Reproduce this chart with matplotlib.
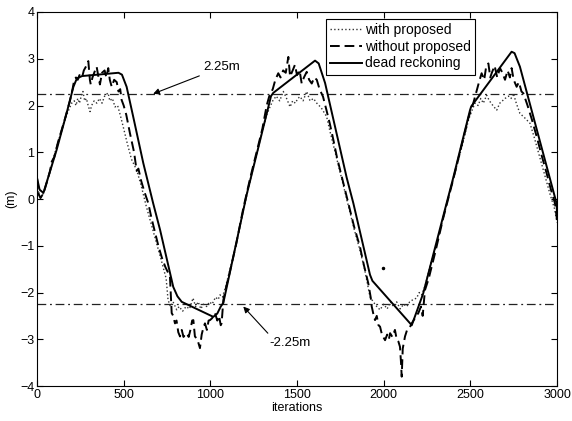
import matplotlib
matplotlib.use("Agg")
import matplotlib.pyplot as plt

# ---------------- data ----------------
dead_x = [0, 15, 37, 80, 113, 171, 210, 230, 260, 470, 490, 517, 555, 613, 670,
          710, 786, 810, 835, 1017, 1040, 1060, 1075, 1210, 1350, 1363, 1604,
          1625, 1662, 1787, 1825, 1921, 1935, 2162, 2228, 2344, 2401, 2498,
          2505, 2738, 2755, 2786, 2998, 3000]
dead_y = [0.45, 0.2, 0.13, 0.65, 1.05, 1.84, 2.4, 2.58, 2.63, 2.7, 2.66, 2.4, 1.76,
          0.77, -0.09, -0.66, -1.88, -2.08, -2.2, -2.52, -2.45, -2.3, -2.22, 0.1,
          2.2, 2.27, 2.96, 2.9, 2.48, 0.45, -0.09, -1.62, -1.75, -2.7, -2.02,
          -0.36, 0.45, 1.9, 1.98, 3.15, 3.12, 2.83, -0.1, -0.35]

without_x = [0, 10, 20, 30, 40, 60, 75, 85, 100, 120, 140, 160, 175, 190, 205, 215,
             225, 235, 245, 260, 270, 285, 296, 305, 310, 320, 335, 344, 355, 363,
             375, 390, 400, 411, 420, 431, 445, 460, 470, 480, 488, 500, 515, 536,
             560, 575, 585, 600, 620, 642, 660, 680, 700, 720, 740, 767, 777, 786,
             796, 805, 815, 825, 835, 845, 855, 864, 875, 885, 895, 902, 911, 925,
             940, 950, 960, 969, 980, 990, 998, 1010, 1027, 1040, 1050, 1060, 1065,
             1070, 1075, 1090, 1110, 1150, 1190, 1230, 1270, 1300, 1325, 1340, 1360,
             1375, 1392, 1405, 1420, 1435, 1450, 1460, 1475, 1488, 1500, 1515, 1527,
             1540, 1556, 1570, 1585, 1600, 1614, 1630, 1650, 1670, 1690, 1710, 1730,
             1750, 1770, 1787, 1810, 1830, 1863, 1885, 1911, 1925, 1931, 1940, 1950,
             1960, 1970, 1979, 1990, 2008, 2020, 2030, 2037, 2050, 2065, 2075, 2085,
             2094, 2100, 2104, 2110, 2123, 2135, 2150, 2162, 2180, 2200, 2215, 2225,
             2238, 2260, 2300, 2344, 2400, 2450, 2490, 2517, 2535, 2550, 2565, 2580,
             2590, 2604, 2615, 2623, 2640, 2655, 2671, 2685, 2700, 2715, 2728, 2738,
             2750, 2767, 2780, 2795, 2806, 2830, 2855, 2883, 2910, 2940, 2965, 2988,
             3000]
without_y = [0.45, 0.1, 0.02, 0.08, 0.15, 0.4, 0.6, 0.8, 0.9, 1.2, 1.45, 1.7, 1.9,
             2.1, 2.35, 2.55, 2.6, 2.55, 2.65, 2.6, 2.75, 2.85, 2.95, 2.55, 2.45,
             2.6, 2.75, 2.83, 2.6, 2.45, 2.7, 2.75, 2.6, 2.8, 2.55, 2.4, 2.55, 2.5,
             2.3, 2.35, 2.12, 2.0, 1.8, 1.41, 1.0, 0.6, 0.65, 0.4, 0.15, -0.09, -0.4,
             -0.7, -1.0, -1.25, -1.45, -1.66, -2.44, -2.5, -2.66, -2.6, -2.85, -2.94,
             -2.8, -2.95, -2.9, -2.87, -2.95, -2.8, -2.6, -2.59, -2.94, -3.0, -3.19,
             -2.9, -2.75, -2.66, -2.8, -2.6, -2.59, -2.55, -2.44, -2.6, -2.5, -2.7,
             -2.66, -2.4, -2.16, -1.9, -1.6, -0.95, -0.2, 0.45, 1.05, 1.5, 2.0, 2.2,
             2.35, 2.55, 2.69, 2.6, 2.75, 2.7, 3.04, 2.62, 2.75, 2.87, 2.65, 2.75,
             2.47, 2.6, 2.72, 2.55, 2.47, 2.6, 2.55, 2.35, 2.19, 1.9, 1.6, 1.26, 0.9,
             0.6, 0.3, 0.05, -0.3, -0.6, -1.02, -1.4, -1.8, -2.1, -2.3, -2.45, -2.59,
             -2.5, -2.7, -2.73, -2.9, -3.02, -2.9, -3.0, -2.87, -2.95, -2.8, -3.0,
             -3.05, -3.16, -3.5, -3.8, -3.2, -2.94, -2.8, -2.75, -2.66, -2.55, -2.44,
             -2.3, -2.5, -1.95, -1.7, -1.1, -0.4, 0.4, 1.15, 1.75, 2.05, 2.3, 2.5,
             2.69, 2.55, 2.8, 2.9, 2.6, 2.69, 2.85, 2.6, 2.8, 2.7, 2.55, 2.75, 2.6,
             2.8, 2.55, 2.4, 2.5, 2.3, 2.26, 2.0, 1.7, 1.33, 0.95, 0.55, 0.2, -0.09,
             -0.45]

with_x = [0, 10, 20, 30, 40, 60, 80, 100, 120, 140, 160, 171, 185, 200, 215, 225,
          235, 245, 255, 265, 275, 285, 295, 306, 315, 330, 345, 360, 375, 390, 410,
          420, 435, 450, 465, 480, 497, 520, 545, 575, 600, 630, 660, 690, 720, 745,
          756, 770, 785, 806, 820, 840, 860, 880, 900, 915, 930, 945, 960, 979, 995,
          1010, 1030, 1045, 1056, 1070, 1090, 1120, 1150, 1190, 1230, 1270, 1300,
          1325, 1344, 1360, 1380, 1400, 1421, 1440, 1460, 1475, 1490, 1505, 1517,
          1535, 1556, 1575, 1595, 1614, 1640, 1671, 1690, 1710, 1740, 1770, 1800,
          1830, 1860, 1890, 1921, 1940, 1960, 1979, 2000, 2020, 2040, 2056, 2075,
          2095, 2115, 2133, 2150, 2170, 2190, 2205, 2219, 2240, 2270, 2300, 2344,
          2400, 2450, 2490, 2510, 2527, 2545, 2560, 2575, 2594, 2610, 2630, 2652,
          2670, 2685, 2700, 2720, 2735, 2748, 2765, 2786, 2810, 2844, 2870, 2900,
          2930, 2960, 2985, 3000]
with_y = [0.4, 0.1, 0.02, 0.08, 0.15, 0.4, 0.65, 0.95, 1.2, 1.45, 1.7, 1.8, 1.92, 2.05,
          2.1, 2.0, 2.15, 2.05, 2.2, 2.3, 2.1, 2.15, 2.0, 1.87, 2.0, 2.1, 2.05, 2.15,
          2.05, 2.2, 2.27, 2.1, 2.15, 1.97, 2.0, 1.8, 1.55, 1.2, 0.85, 0.62, 0.3,
          -0.15, -0.55, -0.95, -1.35, -1.7, -2.16, -2.3, -2.2, -2.37, -2.3, -2.4,
          -2.3, -2.35, -2.12, -2.3, -2.2, -2.35, -2.25, -2.3, -2.2, -2.25, -2.1,
          -2.15, -2.05, -2.1, -1.85, -1.4, -0.95, -0.25, 0.4, 1.0, 1.45, 1.8, 1.97,
          2.1, 2.2, 2.1, 2.3, 2.15, 1.97, 2.1, 2.05, 2.15, 2.19, 2.1, 2.3, 2.1, 2.15,
          2.05, 1.95, 1.76, 1.45, 1.15, 0.7, 0.25, -0.2, -0.65, -1.05, -1.5, -2.09,
          -2.2, -2.3, -2.37, -2.25, -2.35, -2.2, -2.3, -2.2, -2.35, -2.25, -2.3,
          -2.2, -2.15, -2.12, -2.0, -2.05, -1.85, -1.4, -1.05, -0.4, 0.4, 1.1, 1.7,
          1.9, 2.05, 2.0, 2.15, 2.05, 2.22, 2.1, 2.0, 1.9, 2.05, 2.1, 2.15, 2.2,
          2.15, 2.26, 2.05, 1.83, 1.75, 1.62, 1.3, 0.9, 0.5, 0.1, -0.2, -0.5]

stray_x = [1994]
stray_y = [-1.48]

ref_levels = [2.25, -2.25]
ref_labels = ["2.25m", "-2.25m"]
series_labels = ["with proposed", "without proposed", "dead reckoning"]
x_ticks = [0, 500, 1000, 1500, 2000, 2500, 3000]
y_ticks = [-4, -3, -2, -1, 0, 1, 2, 3, 4]

# ---------------- figure ----------------
plt.rcParams['font.family'] = ['Liberation Sans', 'DejaVu Sans']
fig = plt.figure(figsize=(5.72, 4.21), dpi=100)
ax = fig.add_axes([0.0647, 0.0831, 0.9091, 0.8884])

for lev in ref_levels:
    ax.axhline(lev, color='#222222', linestyle=(0, (7, 3, 1.5, 3)), linewidth=0.9)

l1, = ax.plot(with_x, with_y, color='#333333', linestyle=':', linewidth=1.0,
              label=series_labels[0])
l2, = ax.plot(without_x, without_y, color='black', linestyle=(0, (5, 2.5)),
              linewidth=1.4, label=series_labels[1])
l3, = ax.plot(dead_x, dead_y, color='black', linestyle='-', linewidth=1.4,
              label=series_labels[2])
ax.plot(stray_x, stray_y, 'o', color='black', markersize=1.5)

ax.annotate(ref_labels[0], xy=(670, ref_levels[0]), xytext=(960, 2.82),
            fontsize=9.5, va='center', ha='left',
            arrowprops=dict(arrowstyle='-|>', color='black', lw=0.8,
                            mutation_scale=9, shrinkA=1, shrinkB=0))
ax.annotate(ref_labels[1], xy=(1190, -2.30), xytext=(1340, -3.08),
            fontsize=9.5, va='center', ha='left',
            arrowprops=dict(arrowstyle='-|>', color='black', lw=0.8,
                            mutation_scale=9, shrinkA=1, shrinkB=0,
                            relpos=(0.05, 1.0)))

ax.set_xlim(0, 3000)
ax.set_ylim(-4, 4)
ax.set_xticks(x_ticks)
ax.set_yticks(y_ticks)
ax.tick_params(direction='in', top=True, right=True, length=4, width=0.8,
               labelsize=9, pad=2)
for s in ax.spines.values():
    s.set_linewidth(0.8)
ax.set_xlabel("iterations", fontsize=9, labelpad=1)
ax.set_ylabel("(m)", fontsize=9, labelpad=2)

leg = ax.legend(handles=[l1, l2, l3], loc='upper left',
                bbox_to_anchor=(0.556, 0.982), fontsize=10, frameon=True,
                fancybox=False, edgecolor='black', framealpha=1,
                handlelength=2.3, handletextpad=0.2, borderpad=0.3,
                labelspacing=0.2, borderaxespad=0)
leg.get_frame().set_linewidth(0.8)

fig.savefig("out.png", dpi=100)
